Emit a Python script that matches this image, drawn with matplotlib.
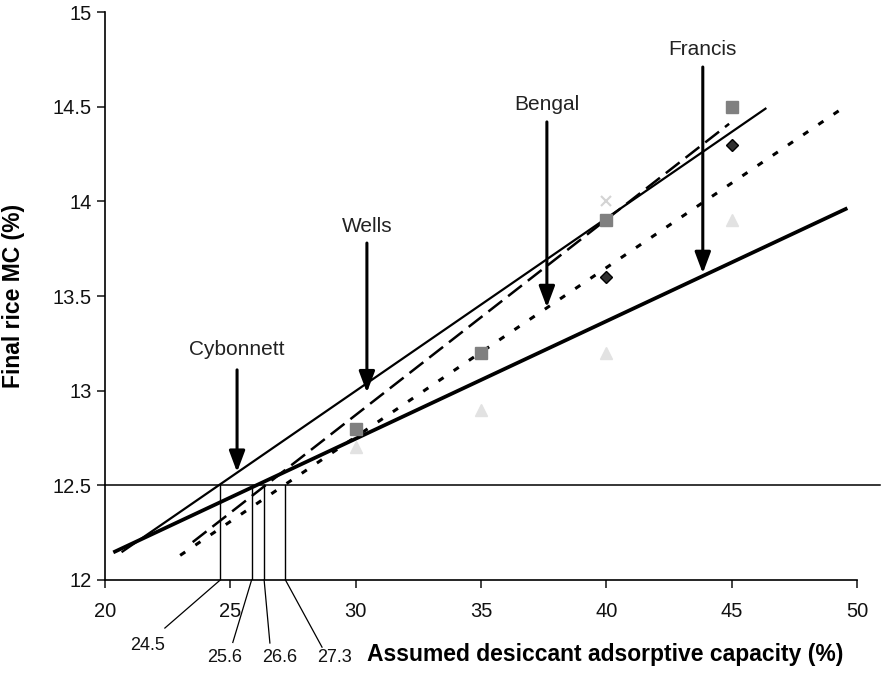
import matplotlib
matplotlib.use("Agg")
import matplotlib.pyplot as plt

plt.rcParams['font.family'] = ['Liberation Sans', 'DejaVu Sans']

# measured points (assumed capacity %, final MC %)
square_x = [30, 35, 40, 45]
square_y = [12.8, 13.2, 13.9, 14.5]
triangle_x = [30, 35, 40, 45]
triangle_y = [12.7, 12.9, 13.2, 13.9]
diamond_x = [40, 45]
diamond_y = [13.6, 14.3]
cross_x = [40]
cross_y = [14.0]

# trendline end points
thin_x = [20.7, 46.35]
thin_y = [12.15, 14.49]
thick_x = [20.4, 49.55]
thick_y = [12.15, 13.96]
dash_x = [23.5, 44.9]
dash_y = [12.2, 14.41]
dot_x = [23.0, 49.4]
dot_y = [12.13, 14.49]

# target MC and capacities at which each line hits it
target_mc = 12.5
cross_at = [24.6, 25.85, 26.35, 27.2]
cross_labels = ['24.5', '25.6', '26.6', '27.3']

# variety labels
varieties = ['Cybonnett', 'Wells', 'Bengal', 'Francis']
var_x = [25.27, 30.45, 37.63, 43.85]
var_tip = [12.57, 12.99, 13.44, 13.62]

fig = plt.figure(figsize=(8.82, 6.74), dpi=100)
ax = fig.add_axes([0.119, 0.1395, 0.8526, 0.8425])

# trendlines
ax.plot(thin_x, thin_y, color='black', lw=1.6, zorder=2)
ax.plot(thick_x, thick_y, color='black', lw=2.7, zorder=2)
ax.plot(dash_x, dash_y, color='black', lw=1.8, dashes=(7, 3), zorder=2)
ax.plot(dot_x, dot_y, color='black', lw=2.2, dashes=(2, 4), zorder=2)

# data markers
ax.plot(square_x, square_y, 's', color='#808080', ms=8, ls='none', zorder=3)
ax.plot(triangle_x, triangle_y, '^', color='#e2e2e2', ms=9, ls='none', zorder=1)
ax.plot(diamond_x, diamond_y, 'D', mfc='#303030', mec='black', ms=6, ls='none', zorder=3)
ax.plot(cross_x, cross_y, 'x', color='#d4d4d4', ms=7, mew=1.5, ls='none', zorder=1)

# 12.5 % reference line, runs a bit past the axis
ax.plot([20, 50.9], [target_mc, target_mc], color='black', lw=1.1, clip_on=False, zorder=2)

# drop lines and their labels under the axis
leader_end = [(22.39, 11.746), (25.1, 11.67), (26.58, 11.667), (28.66, 11.645)]
label_pos = [(21.68, 11.656), (24.79, 11.59), (26.98, 11.59), (29.17, 11.59)]
for cx, lab, le, lp in zip(cross_at, cross_labels, leader_end, label_pos):
    ax.plot([cx, cx], [12, target_mc], color='black', lw=1.0, zorder=2)
    ax.plot([cx, le[0]], [12, le[1]], color='black', lw=0.9, clip_on=False)
    ax.text(lp[0], lp[1], lab, ha='center', va='center', fontsize=13, color='#111111')

# arrows with variety names
arrow_start = [13.11, 13.78, 14.42, 14.71]
text_y = [13.22, 13.87, 14.51, 14.80]
for name, x, tip, st, ty in zip(varieties, var_x, var_tip, arrow_start, text_y):
    ax.annotate('', xy=(x, tip), xytext=(x, st),
                arrowprops=dict(arrowstyle='-|>,head_length=0.8,head_width=0.3',
                                color='black', lw=2.2, shrinkA=0, shrinkB=0,
                                mutation_scale=16))
    ax.text(x, ty, name, ha='center', va='center', fontsize=15, color='#222222')

ax.set_xlim(20, 50)
ax.set_ylim(12, 15)
ax.set_xticks([20, 25, 30, 35, 40, 45, 50])
ax.set_yticks([12, 12.5, 13, 13.5, 14, 14.5, 15])
ax.set_yticklabels(['12', '12.5', '13', '13.5', '14', '14.5', '15'])
ax.tick_params(direction='out', length=6, width=1.1, labelsize=14.5, colors='#111111')
ax.tick_params(axis='x', pad=10)

for spine in ['top', 'right']:
    ax.spines[spine].set_visible(False)
for spine in ['left', 'bottom']:
    ax.spines[spine].set_linewidth(1.2)

ax.set_xlabel('Assumed desiccant adsorptive capacity (%)', fontsize=16.5, fontweight='bold')
ax.xaxis.set_label_coords(0.665, -0.111)
ax.set_ylabel('Final rice MC (%)', fontsize=16.5, fontweight='bold')
ax.yaxis.set_label_coords(-0.106, 0.5)

fig.savefig('out.png', dpi=100)
